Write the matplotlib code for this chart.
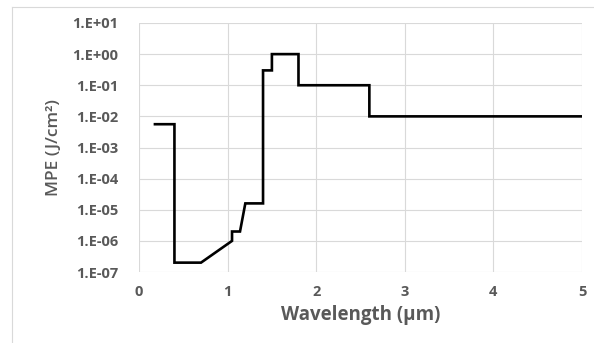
import matplotlib
matplotlib.use("Agg")
import matplotlib.pyplot as plt
from matplotlib.lines import Line2D

# Data (vertices of the MPE curve)
wavelength_um = [0.18, 0.4, 0.4, 0.7, 1.05, 1.05, 1.14, 1.2, 1.4, 1.4, 1.5, 1.5,
                 1.8, 1.8, 2.6, 2.6, 5.0]
mpe_j_cm2 = [5.6e-3, 5.6e-3, 2e-7, 2e-7, 1e-6, 2e-6, 2e-6, 1.6e-5, 1.6e-5, 0.3, 0.3,
             1.0, 1.0, 0.1, 0.1, 0.01, 0.01]

x_ticks = [0, 1, 2, 3, 4, 5]
x_tick_labels = ["0", "1", "2", "3", "4", "5"]
y_ticks = [1e-7, 1e-6, 1e-5, 1e-4, 1e-3, 1e-2, 1e-1, 1e0, 1e1]
y_tick_labels = ["1.E-07", "1.E-06", "1.E-05", "1.E-04", "1.E-03", "1.E-02",
                 "1.E-01", "1.E+00", "1.E+01"]

W, H = 594, 343
fig = plt.figure(figsize=(W / 100, H / 100), dpi=100)
fig.patch.set_facecolor("white")

left, right, top, bottom = 139, 582, 23, 272
ax = fig.add_axes([left / W, 1 - bottom / H, (right - left) / W, (bottom - top) / H])

ax.plot(wavelength_um, mpe_j_cm2, color="black", lw=1.9, solid_joinstyle="miter")
ax.set_yscale("log")
ax.set_xlim(0, 5)
ax.set_ylim(1e-7, 1e1)

grey = "#595959"
font = "Open Sans"
ax.set_xticks(x_ticks)
ax.set_xticklabels(x_tick_labels, fontsize=10.5, fontweight="bold", color=grey, family=font)
ax.set_yticks(y_ticks)
ax.set_yticklabels(y_tick_labels, fontsize=10.5, fontweight="bold", color=grey, family=font)
ax.yaxis.set_minor_locator(matplotlib.ticker.NullLocator())
ax.tick_params(axis="both", length=0)
ax.tick_params(axis="y", pad=15)
ax.tick_params(axis="x", pad=9)

ax.grid(True, which="major", color="#d9d9d9", lw=0.8)
ax.set_axisbelow(True)
for s in ax.spines.values():
    s.set_visible(False)

ax.set_xlabel("Wavelength (µm)", fontsize=13.5, fontweight="bold", color=grey,
              family=font, labelpad=5)
ax.set_ylabel("MPE (J/cm²)", fontsize=12.5, fontweight="semibold", color=grey,
              family=font, labelpad=7)

# chart border (light grey, top and left)
fig.add_artist(Line2D([12 / W, 1], [1 - 7 / H, 1 - 7 / H], transform=fig.transFigure,
                      color="#d9d9d9", lw=0.8))
fig.add_artist(Line2D([12 / W, 12 / W], [0, 1 - 7 / H], transform=fig.transFigure,
                      color="#d9d9d9", lw=0.8))

fig.savefig("out.png", dpi=100)
